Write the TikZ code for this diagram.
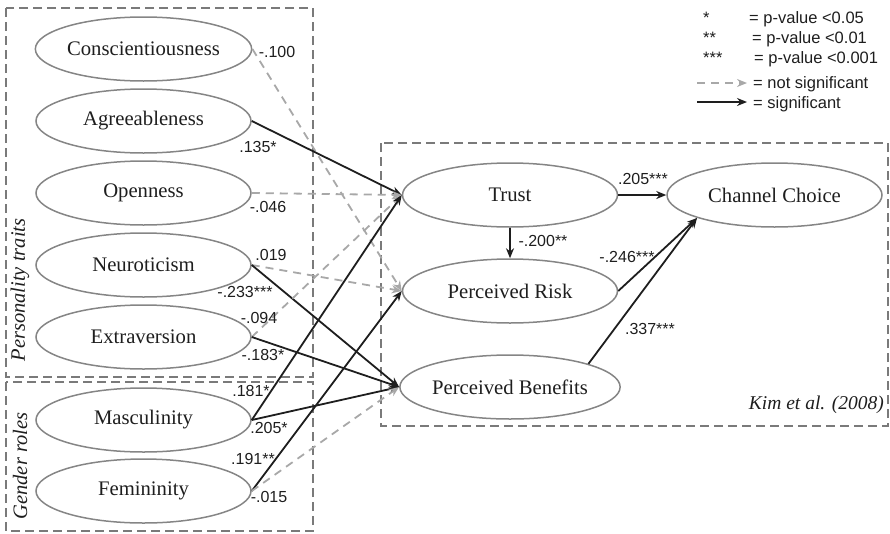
\documentclass[tikz,border=0pt]{standalone}
\usepackage{fontspec}
\setmainfont{Liberation Serif}
\setsansfont{Liberation Sans}
\usetikzlibrary{arrows.meta,shapes.geometric}
\definecolor{rim}{HTML}{858585}
\definecolor{frame}{HTML}{7A7A7A}
\definecolor{faint}{HTML}{A8A8A8}
\definecolor{ink}{HTML}{1E1E1E}
\begin{document}
\begin{tikzpicture}[x=1pt,y=-1pt,
  construct/.style={ellipse, draw=rim, line width=1.5pt, minimum width=215pt,
    minimum height=64pt, inner sep=0pt, font=\fontsize{20.7}{24}\selectfont, text=ink},
  group/.style={draw=frame, line width=1.8pt, dash pattern=on 9pt off 5pt},
  sig/.style={draw=ink, line width=1.8pt, -{Stealth[length=10pt,width=8pt]}},
  nsig/.style={draw=faint, line width=1.8pt, dash pattern=on 8pt off 6pt,
    -{Stealth[length=10pt,width=8pt]}},
  coef/.style={font=\sffamily\fontsize{16}{19}\selectfont, text=ink, inner sep=0pt},
  grouplabel/.style={rotate=90, font=\itshape\fontsize{20.5}{24}\selectfont, text=ink, inner sep=0pt},
  legend/.style={font=\sffamily\fontsize{16.5}{20}\selectfont, text=ink, inner sep=0pt, anchor=base west},
]
\useasboundingbox (0,0) rectangle (890,533);

% group frames
\draw[group] (6,8) rectangle (313,377);
\draw[group] (6,382) rectangle (313,531);
\draw[group] (381,143) rectangle (888,426);

\node[grouplabel] (ptlab) at (20,290) {Personality traits};
\node[grouplabel] (grlab) at (20,466) {Gender roles};
\node[font=\itshape\fontsize{19.5}{23}\selectfont, text=ink, inner sep=0pt, anchor=east] (kim) at (884,405) {Kim et al. (2008)};

% antecedents
\node[construct] (con) at (143.5,49) {Conscientiousness};
\node[construct] (agr) at (143.5,121) {Agreeableness};
\node[construct] (ope) at (143.5,193) {Openness};
\node[construct] (neu) at (143.5,265) {Neuroticism};
\node[construct] (ext) at (143.5,337) {Extraversion};
\node[construct] (mas) at (143.5,420) {Masculinity};
\node[construct] (fem) at (143.5,491) {Femininity};

% mediators and outcome
\node[construct] (tru) at (510,195) {Trust};
\node[construct] (ris) at (510,291) {Perceived Risk};
\node[construct] (ben) at (510,387) {Perceived Benefits};
\node[construct] (cha) at (774.5,195) {Channel Choice};

% paths
\draw[nsig] (con.east) -- (ris.west);
\draw[sig]  (agr.east) -- (tru.west);
\draw[nsig] (ope.east) -- (tru.west);
\draw[nsig] (neu.east) -- (ris.west);
\draw[sig]  (neu.east) -- (ben.west);
\draw[nsig] (ext.east) -- (tru.west);
\draw[sig]  (ext.east) -- (ben.west);
\draw[sig]  (mas.east) -- (tru.west);
\draw[sig]  (mas.east) -- (ben.west);
\draw[sig]  (fem.east) -- (ris.west);
\draw[nsig] (fem.east) -- (ben.west);

\draw[sig] (tru.east) -- (cha.west);
\draw[sig] (tru.south) -- (ris.north);
\coordinate (chain) at (697,218);
\draw[sig] (ris.east) -- (chain);
\draw[sig] (ben.north east) -- (chain);

% coefficients
\node[coef] (c1) at (277,52) {-.100};
\node[coef] (c2) at (258,147) {.135*};
\node[coef] (c3) at (268,207) {-.046};
\node[coef] (c4) at (271,255) {.019};
\node[coef] (c5) at (245,292) {-.233***};
\node[coef] (c6) at (259,318) {-.094};
\node[coef] (c7) at (263,355) {-.183*};
\node[coef] (c8) at (251,391) {.181*};
\node[coef] (c9) at (269,428) {.205*};
\node[coef] (c10) at (253,459) {.191**};
\node[coef] (c11) at (269,497) {-.015};
\node[coef] (c12) at (643,179) {.205***};
\node[coef] (c13) at (543,241) {-.200**};
\node[coef] (c14) at (627,257) {-.246***};
\node[coef] (c15) at (650,329) {.337***};

% legend
\node[legend] (s1) at (703,23) {*};
\node[legend] (s2) at (703,43) {**};
\node[legend] (s3) at (703,63) {***};
\node[legend] (l1) at (749,23) {= p-value <0.05};
\node[legend] (l2) at (752,43) {= p-value <0.01};
\node[legend] (l3) at (754,63) {= p-value <0.001};
\node[legend] (l4) at (753,88) {= not significant};
\node[legend] (l5) at (753,108) {= significant};
\coordinate (d0) at (697,83);
\coordinate (d1) at (747,83);
\coordinate (e0) at (697,102);
\coordinate (e1) at (747,102);
\draw[nsig] (d0) -- (d1);
\draw[sig] (e0) -- (e1);
\end{tikzpicture}
\end{document}
